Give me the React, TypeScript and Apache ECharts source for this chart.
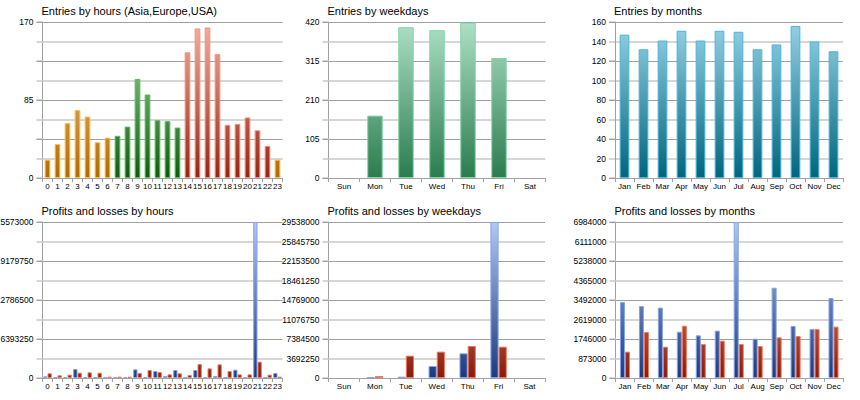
import React, { useEffect, useRef } from "react";
import * as echarts from "echarts";

// ---------- data ----------
const hours = ["0","1","2","3","4","5","6","7","8","9","10","11","12","13","14","15","16","17","18","19","20","21","22","23"];
const weekdays = ["Sun","Mon","Tue","Wed","Thu","Fri","Sat"];
const months = ["Jan","Feb","Mar","Apr","May","Jun","Jul","Aug","Sep","Oct","Nov","Dec"];

const hourSession = ["Asia","Asia","Asia","Asia","Asia","Asia","Asia","Europe","Europe","Europe","Europe","Europe","Europe","Europe","USA","USA","USA","USA","USA","USA","USA","USA","USA","Asia"];
const entriesByHour = [20,37,60,74,67,39,44,46,56,108,91,63,62,55,137,163,164,135,58,59,66,52,35,20];
const entriesByWeekday = [0,168,406,398,418,323,0];
const entriesByMonth = [147,132,141,151,141,151,150,132,137,156,140,130];

const profitsByHour = [270000,100000,160000,1480000,160000,100000,50000,50000,160000,1420000,160000,1150000,330000,1310000,100000,1310000,100000,330000,100000,1370000,100000,25573000,100000,820000];
const lossesByHour = [770000,440000,550000,870000,930000,870000,220000,220000,220000,820000,1310000,980000,600000,770000,490000,2300000,1580000,2240000,1150000,600000,600000,2680000,550000,220000];
const profitsByWeekday = [0,190000,250000,2270000,4670000,29538000,0];
const lossesByWeekday = [0,380000,4230000,4990000,6060000,5930000,0];
const profitsByMonth = [3400000,3220000,3150000,2070000,1910000,2120000,6984000,1760000,4040000,2330000,2190000,3580000];
const lossesByMonth = [1180000,2060000,1400000,2340000,1520000,1670000,1520000,1430000,1820000,1880000,2190000,2300000];

const titles = [
  "Entries by hours (Asia,Europe,USA)",
  "Entries by weekdays",
  "Entries by months",
  "Profits and losses by hours",
  "Profits and losses by weekdays",
  "Profits and losses by months",
];
const axisMax = [170, 420, 160, 25573000, 29538000, 6984000];
const minorStep = [21.25, 52.5, 20, 3196625, 3692250, 873000];
const labelEvery = [4, 2, 1, 2, 1, 1];

// ---------- styles ----------
const FONT = '"Liberation Sans", Arial, sans-serif';
const LIGHT_LINE = "#d6d6d6";
const DARK_LINE = "#a0a0a0";

const PAL: Record<string, { light: string; dark: string; border: string }> = {
  Asia: { light: "#ffd488", dark: "#b06a00", border: "#ffbc58" },
  Europe: { light: "#a4e2a4", dark: "#0c5c0c", border: "#5cba5c" },
  USA: { light: "#f6b0a0", dark: "#982410", border: "#f29280" },
  weekday: { light: "#aee0c6", dark: "#2a7c4e", border: "#84d6a6" },
  month: { light: "#96d2e6", dark: "#00657f", border: "#48b6d6" },
  profit: { light: "#b0c8f4", dark: "#1c3880", border: "#84a4e4" },
  loss: { light: "#ffb8a4", dark: "#8a1a06", border: "#ee7a62" },
};

const grids = [
  { left: 42.5, top: 22, width: 240, height: 156 },
  { left: 328.5, top: 22, width: 217, height: 156 },
  { left: 615, top: 22, width: 228, height: 156 },
  { left: 42.5, top: 222, width: 240, height: 156 },
  { left: 328.5, top: 222, width: 216.5, height: 156 },
  { left: 615.5, top: 222, width: 227.5, height: 156 },
];
const categoriesPerPanel = [hours, weekdays, months, hours, weekdays, months];

function grad(g: { top: number; height: number }, p: { light: string; dark: string }) {
  return new echarts.graphic.LinearGradient(
    0, g.top, 0, g.top + g.height,
    [{ offset: 0, color: p.light }, { offset: 1, color: p.dark }],
    true
  );
}

function items(values: number[], g: any, pal: (i: number) => { light: string; dark: string; border: string }) {
  return values.map((v, i) => {
    const p = pal(i);
    return {
      value: v,
      itemStyle: { color: grad(g, p), borderColor: p.border, borderWidth: v === 0 ? 0 : 1 },
    };
  });
}

function buildOption() {
  const title = titles.map((t, i) => ({
    text: t,
    left: grids[i].left - 1,
    top: grids[i].top - 17,
    padding: 0,
    textStyle: { fontSize: 11, fontWeight: "normal", color: "#000", fontFamily: FONT },
  }));
  const grid = grids.map((g) => ({ ...g, containLabel: false, outerBoundsMode: "none" }));
  const xAxis = categoriesPerPanel.map((cats, i) => ({
    type: "category",
    gridIndex: i,
    data: cats,
    axisLine: { show: true, lineStyle: { color: DARK_LINE, width: 1 } },
    axisTick: { show: true, length: 4, interval: 0, lineStyle: { color: DARK_LINE } },
    axisLabel: { interval: 0, fontSize: 8, margin: 4, color: "#000", fontFamily: FONT },
    splitLine: { show: false },
  }));
  const yAxis: any[] = [];
  for (let i = 0; i < 6; i++) {
    const k = labelEvery[i];
    yAxis.push({
      type: "value",
      gridIndex: i,
      min: 0,
      max: axisMax[i],
      interval: minorStep[i],
      position: "left",
      axisLine: { show: false },
      axisTick: { show: true, length: 6, lineStyle: { color: LIGHT_LINE, width: 2 } },
      splitLine: { show: true, lineStyle: { color: ["rgba(0,0,0,0)", LIGHT_LINE], width: 2 } },
      axisLabel: {
        fontSize: 8.5,
        margin: 9,
        color: "#000",
        fontFamily: FONT,
        hideOverlap: false,
        formatter: (v: number, idx: number) => (idx % k === 0 ? String(Math.round(v)) : ""),
      },
    });
    yAxis.push({
      type: "value",
      gridIndex: i,
      min: 0,
      max: axisMax[i],
      interval: minorStep[i] * 2,
      position: "left",
      axisLine: { show: true, lineStyle: { color: DARK_LINE, width: 1 } },
      axisTick: { show: true, length: 6, lineStyle: { color: DARK_LINE, width: 1 } },
      splitLine: { show: true, lineStyle: { color: DARK_LINE, width: 1 } },
      axisLabel: { show: false },
    });
  }
  const series: any[] = [
    {
      type: "bar", xAxisIndex: 0, yAxisIndex: 0, barWidth: "57%",
      data: items(entriesByHour, grids[0], (i) => PAL[hourSession[i]]),
    },
    {
      type: "bar", xAxisIndex: 1, yAxisIndex: 2, barWidth: "50%",
      data: items(entriesByWeekday, grids[1], () => PAL.weekday),
    },
    {
      type: "bar", xAxisIndex: 2, yAxisIndex: 4, barWidth: "51%",
      data: items(entriesByMonth, grids[2], () => PAL.month),
    },
  ];
  const pl: [number[], number[], string][] = [
    [profitsByHour, lossesByHour, "14%"],
    [profitsByWeekday, lossesByWeekday, "47%"],
    [profitsByMonth, lossesByMonth, "47%"],
  ];
  pl.forEach(([p, l, gap], j) => {
    const gi = 3 + j;
    series.push({
      type: "bar", name: "Profits", xAxisIndex: gi, yAxisIndex: gi * 2, barGap: "0%", barCategoryGap: gap,
      data: items(p, grids[gi], () => PAL.profit),
    });
    series.push({
      type: "bar", name: "Losses", xAxisIndex: gi, yAxisIndex: gi * 2, barGap: "0%", barCategoryGap: gap,
      data: items(l, grids[gi], () => PAL.loss),
    });
  });
  return {
    animation: false,
    backgroundColor: "#ffffff",
    textStyle: { fontFamily: FONT },
    title,
    grid,
    xAxis,
    yAxis,
    series,
  };
}

export default function App() {
  const ref = useRef<HTMLDivElement>(null);
  useEffect(() => {
    if (!ref.current) return;
    const chart = echarts.init(ref.current, undefined, { renderer: "svg" });
    chart.setOption(buildOption() as any);
    return () => chart.dispose();
  }, []);
  return (
    <div
      ref={ref}
      style={{ position: "absolute", left: 0, top: 0, width: 860, height: 400, background: "#fff" }}
    />
  );
}
